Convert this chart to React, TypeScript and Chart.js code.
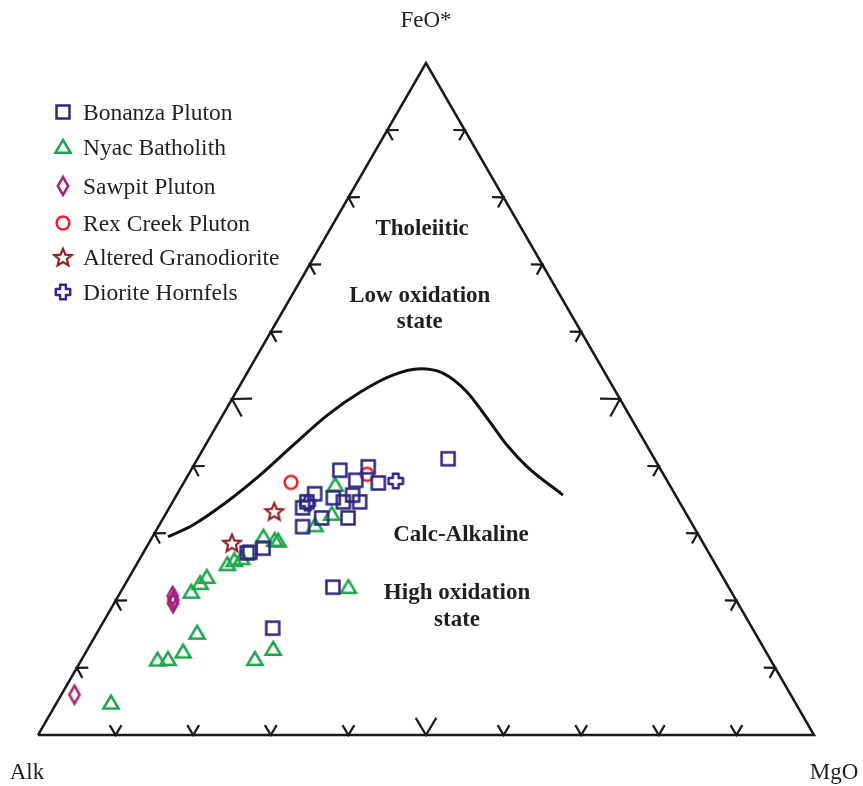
import React, { useEffect, useRef } from "react";
import { Chart, registerables } from "chart.js";

Chart.register(...registerables);

const H = Math.sqrt(3) / 2;

// AFM compositions: [Alk, FeO*, MgO] (%)
const bonanzaPluton: number[][] = [
  [26.6, 41.1, 32.3],
  [41.4, 39.4, 19.2],
  [37.5, 39.9, 22.6],
  [40.1, 37.9, 22.0],
  [37.4, 37.5, 25.1],
  [46.4, 35.9, 17.7],
  [48.0, 34.7, 17.3],
  [49.0, 33.8, 17.2],
  [44.3, 35.3, 20.4],
  [43.3, 34.7, 22.0],
  [41.6, 35.7, 22.7],
  [41.2, 34.7, 24.1],
  [43.9, 32.3, 23.8],
  [47.3, 32.3, 20.4],
  [50.4, 31.0, 18.6],
  [59.1, 27.2, 13.7],
  [59.5, 27.1, 13.4],
  [57.1, 27.8, 15.1],
  [51.0, 22.0, 27.0],
  [61.8, 15.9, 22.3],
];

const nyacBatholith: number[][] = [
  [43.1, 37.2, 19.7],
  [45.7, 32.9, 21.4],
  [48.7, 31.2, 20.1],
  [56.2, 29.5, 14.3],
  [55.0, 29.0, 16.0],
  [54.6, 28.9, 16.5],
  [60.6, 26.3, 13.1],
  [62.9, 25.4, 11.7],
  [61.7, 26.0, 12.3],
  [66.5, 23.5, 10.0],
  [67.8, 22.6, 9.6],
  [69.6, 21.3, 9.1],
  [71.9, 15.2, 12.9],
  [75.1, 12.4, 12.5],
  [77.6, 11.3, 11.1],
  [79.0, 11.2, 9.8],
  [88.2, 4.8, 7.0],
  [66.4, 11.3, 22.3],
  [63.3, 12.8, 23.9],
  [49.0, 22.0, 29.0],
];

const sawpitPluton: number[][] = [
  [72.3, 20.7, 7.0],
  [72.5, 20.1, 7.4],
  [72.8, 19.6, 7.6],
  [92.3, 6.0, 1.7],
];

const rexCreekPluton: number[][] = [
  [48.6, 37.6, 13.8],
  [38.2, 38.8, 23.0],
];

const alteredGranodiorite: number[][] = [
  [52.9, 33.3, 13.8],
  [60.7, 28.6, 10.7],
];

const dioriteHornfels: number[][] = [
  [35.0, 37.8, 27.2],
  [48.0, 34.5, 17.5],
];

// Tholeiitic / calc-alkaline boundary
const boundaryCurve: number[][] = [
  [68.5, 29.5, 2.0],
  [64.4, 31.25, 4.35],
  [58.3, 34.7, 7.0],
  [52.0, 38.7, 9.3],
  [45.6, 43.1, 11.3],
  [38.9, 47.6, 13.5],
  [33.0, 51.0, 16.0],
  [27.5, 53.55, 18.95],
  [23.5, 54.5, 22.0],
  [20.9, 53.85, 25.25],
  [19.2, 51.05, 29.75],
  [18.55, 47.15, 34.3],
  [18.0, 43.15, 38.85],
  [17.0, 39.9, 43.1],
  [14.5, 35.7, 49.8],
];

const vertices: number[][] = [
  [100, 0, 0],
  [0, 0, 100],
  [0, 100, 0],
];
const vertexLabels = ["Alk", "MgO", "FeO*"];
const tickPercents = [10, 20, 30, 40, 50, 60, 70, 80, 90];

const seriesNames = [
  "Bonanza Pluton",
  "Nyac Batholith",
  "Sawpit Pluton",
  "Rex Creek Pluton",
  "Altered Granodiorite",
  "Diorite Hornfels",
];

const toXY = (p: number[]) => {
  const t = p[0] + p[1] + p[2];
  const F = (p[1] / t) * 100;
  const M = (p[2] / t) * 100;
  return { x: M + F / 2, y: F * H };
};

type Shape = "square" | "triangle" | "diamond" | "circle" | "star" | "plus";

function makeMarker(shape: Shape, color: string): HTMLCanvasElement {
  const s = 28;
  const c = document.createElement("canvas");
  c.width = s;
  c.height = s;
  const g = c.getContext("2d")!;
  const m = s / 2;
  g.strokeStyle = color;
  g.lineWidth = 2.5;
  g.lineJoin = "miter";
  g.beginPath();
  if (shape === "square") {
    g.rect(m - 6.5, m - 6.5, 13, 13);
  } else if (shape === "triangle") {
    g.moveTo(m, m - 7);
    g.lineTo(m + 7.6, m + 5.8);
    g.lineTo(m - 7.6, m + 5.8);
    g.closePath();
  } else if (shape === "diamond") {
    g.moveTo(m, m - 9);
    g.lineTo(m + 5.2, m);
    g.lineTo(m, m + 9);
    g.lineTo(m - 5.2, m);
    g.closePath();
  } else if (shape === "circle") {
    g.arc(m, m, 6.4, 0, Math.PI * 2);
  } else if (shape === "star") {
    g.lineWidth = 2.2;
    for (let i = 0; i < 10; i++) {
      const r = i % 2 === 0 ? 9.2 : 4.1;
      const ang = -Math.PI / 2 + (i * Math.PI) / 5;
      const px = m + r * Math.cos(ang);
      const py = m + 1 + r * Math.sin(ang);
      if (i === 0) g.moveTo(px, py);
      else g.lineTo(px, py);
    }
    g.closePath();
  } else {
    g.lineJoin = "round";
    const a = 2.9;
    const b = 7.2;
    const pts = [
      [-a, -b], [a, -b], [a, -a], [b, -a], [b, a], [a, a],
      [a, b], [-a, b], [-a, a], [-b, a], [-b, -a], [-a, -a],
    ];
    pts.forEach(([dx, dy], i) => {
      if (i === 0) g.moveTo(m + dx, m + dy);
      else g.lineTo(m + dx, m + dy);
    });
    g.closePath();
  }
  g.stroke();
  return c;
}

const SERIF = '"Liberation Serif", "Times New Roman", serif';

export default function App() {
  const ref = useRef<HTMLCanvasElement | null>(null);

  useEffect(() => {
    if (!ref.current) return;
    const styles: { shape: Shape; color: string; data: number[][] }[] = [
      { shape: "square", color: "#2c2a7d", data: bonanzaPluton },
      { shape: "triangle", color: "#1fa64d", data: nyacBatholith },
      { shape: "diamond", color: "#a3237f", data: sawpitPluton },
      { shape: "circle", color: "#e2262b", data: rexCreekPluton },
      { shape: "star", color: "#8e2424", data: alteredGranodiorite },
      { shape: "plus", color: "#3a2486", data: dioriteHornfels },
    ];
    const markers = styles.map((s) => makeMarker(s.shape, s.color));

    const scatterSets = styles.map((s, i) => ({
      label: seriesNames[i],
      data: s.data.map(toXY),
      pointStyle: markers[i],
      pointRadius: 8,
      showLine: false,
      clip: false as const,
    }));

    const legendRows = [112, 147, 186, 223, 257, 292];
    const regionLabels = [
      { text: "Tholeiitic", x: 49.5, y: 64.4 },
      { text: "Low oxidation", x: 49.2, y: 55.8 },
      { text: "state", x: 49.2, y: 52.4 },
      { text: "Calc-Alkaline", x: 54.5, y: 25.0 },
      { text: "High oxidation", x: 54.0, y: 17.5 },
      { text: "state", x: 54.0, y: 14.0 },
    ];

    const overlay = {
      id: "ternaryOverlay",
      afterDraw(chart: any) {
        const ctx = chart.ctx as CanvasRenderingContext2D;
        const xs = chart.scales.x;
        const ys = chart.scales.y;
        const px = (p: { x: number; y: number }) => ({
          x: xs.getPixelForValue(p.x),
          y: ys.getPixelForValue(p.y),
        });
        ctx.save();
        // edge chevrons
        ctx.strokeStyle = "#1a1a1a";
        ctx.lineWidth = 2.2;
        ctx.lineCap = "butt";
        ctx.lineJoin = "miter";
        tickPercents.forEach((t) => {
          const len = t === 50 ? 20 : 11.5;
          const edges = [
            { p: toXY([100 - t, 0, t]), n: -90 },
            { p: toXY([100 - t, t, 0]), n: 30 },
            { p: toXY([0, t, 100 - t]), n: 150 },
          ];
          edges.forEach(({ p, n }) => {
            const q = px(p);
            const a1 = ((n - 31) * Math.PI) / 180;
            const a2 = ((n + 31) * Math.PI) / 180;
            ctx.beginPath();
            ctx.moveTo(q.x + len * Math.cos(a1), q.y + len * Math.sin(a1));
            ctx.lineTo(q.x, q.y);
            ctx.lineTo(q.x + len * Math.cos(a2), q.y + len * Math.sin(a2));
            ctx.stroke();
          });
        });

        // vertex labels
        ctx.fillStyle = "#231f20";
        ctx.font = `23px ${SERIF}`;
        ctx.textAlign = "center";
        ctx.textBaseline = "alphabetic";
        const vA = px(toXY(vertices[0]));
        const vM = px(toXY(vertices[1]));
        const vF = px(toXY(vertices[2]));
        ctx.fillText(vertexLabels[0], vA.x - 11, vA.y + 44);
        ctx.fillText(vertexLabels[1], vM.x + 20, vM.y + 44);
        ctx.fillText(vertexLabels[2], vF.x, vF.y - 36);

        // region labels
        ctx.font = `bold 23px ${SERIF}`;
        regionLabels.forEach((l) => {
          const q = px({ x: l.x, y: l.y });
          ctx.fillText(l.text, q.x, q.y);
        });

        // legend
        ctx.font = `23.5px ${SERIF}`;
        ctx.textAlign = "left";
        legendRows.forEach((cy, i) => {
          const mk = markers[i];
          ctx.drawImage(mk, 63 - mk.width / 2, cy - mk.height / 2);
          ctx.fillText(seriesNames[i], 83, cy + 7.5);
        });
        ctx.restore();
      },
    };

    const chart = new Chart(ref.current, {
      type: "scatter",
      data: {
        datasets: [
          ...scatterSets,
          {
            label: "boundary",
            data: boundaryCurve.map(toXY),
            showLine: true,
            borderColor: "#111111",
            borderWidth: 3,
            pointRadius: 0,
            cubicInterpolationMode: "monotone",
            fill: false,
          },
          {
            label: "frame",
            data: [...vertices, vertices[0]].map(toXY),
            showLine: true,
            borderColor: "#1a1a1a",
            borderWidth: 2.5,
            pointRadius: 0,
            tension: 0,
            fill: false,
            clip: false as const,
          },
        ] as any,
      },
      options: {
        animation: false,
        responsive: false,
        maintainAspectRatio: false,
        events: [],
        layout: { padding: { left: 38, right: 49, top: 63, bottom: 51 } },
        scales: {
          x: { type: "linear", min: 0, max: 100, display: false },
          y: { type: "linear", min: 0, max: 100 * H, display: false },
        },
        plugins: {
          legend: { display: false },
          tooltip: { enabled: false },
        },
      },
      plugins: [overlay],
    });
    return () => chart.destroy();
  }, []);

  return (
    <div style={{ position: "absolute", left: 0, top: 0, width: 863, height: 786, overflow: "hidden" }}>
      <canvas ref={ref} width={863} height={786} style={{ display: "block" }} />
    </div>
  );
}
